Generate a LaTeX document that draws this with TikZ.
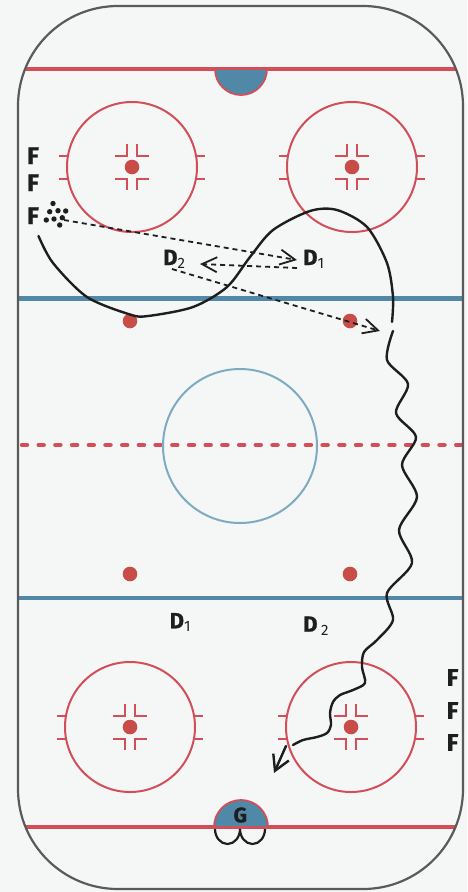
\documentclass[tikz,border=0pt]{standalone}
\usepackage{fontspec}
\setmainfont{Fira Sans}[BoldFeatures={FakeBold=1}]
\usetikzlibrary{arrows.meta}
\definecolor{bg}{HTML}{F5F7F6}
\definecolor{board}{HTML}{5A5A5A}
\definecolor{rred}{HTML}{D24E59}
\definecolor{rblue}{HTML}{5088A8}
\definecolor{cblue}{HTML}{7EAAC2}
\definecolor{dotred}{HTML}{C84D48}
\definecolor{ink}{HTML}{1E1E1E}
\newcommand\dsub[1]{{\fontsize{15pt}{15pt}\selectfont\mdseries\raisebox{-3.3pt}{#1}}}
\tikzset{
  circ/.style={draw=rred, line width=2pt},
  redline/.style={draw=rred, line width=4.5pt},
  blueline/.style={draw=rblue, line width=4.5pt},
  spot/.style={fill=dotred},
  crease/.style={fill=rblue, draw=rred, line width=1.8pt},
  skate/.style={draw=ink, line width=2.4pt, line cap=round},
  passline/.style={draw=ink, line width=1.8pt, dash pattern=on 5pt off 4pt,
    -{Straight Barb[length=15pt,width=15pt,line width=1.8pt]}},
  flab/.style={font=\fontsize{24pt}{24pt}\selectfont\bfseries, text=ink, inner sep=0pt},
  dlab/.style={font=\fontsize{22pt}{22pt}\selectfont\bfseries, text=ink, inner sep=0pt, anchor=base west},
  puck/.style={fill=ink},
  faceoff/.pic={
    \draw[circ] (0,0) circle[radius=65];
    \draw[circ] (-64,-11.5) -- (-73,-11.5) (-64,11.5) -- (-73,11.5)
                (64,-11.5) -- (73,-11.5) (64,11.5) -- (73,11.5);
    \draw[circ] (-5,-23) -- (-5,-11.5) -- (-17,-11.5)
                (5,-23) -- (5,-11.5) -- (17,-11.5)
                (-5,23) -- (-5,11.5) -- (-17,11.5)
                (5,23) -- (5,11.5) -- (17,11.5);
    \fill[spot] (0,0) circle[radius=7.3];
  }
}
\begin{document}
\begin{tikzpicture}[x=1pt,y=-1pt]
\fill[bg] (0,0) rectangle (467,892);
\useasboundingbox (0,0) rectangle (467,892);

\begin{scope}
  \clip[rounded corners=100pt] (18,6) rectangle (463,889);
  \draw[redline] (0,69) -- (467,69);
  \draw[redline] (0,827) -- (467,827);
  \draw[blueline] (0,298.5) -- (467,298.5);
  \draw[blueline] (0,598) -- (467,598);
  \draw[draw=rred, line width=4.5pt, line cap=round, dash pattern=on 5pt off 11.7pt] (22,445) -- (470,445);
\end{scope}

% creases
\draw[crease] (215,69) arc[start angle=180,end angle=0,radius=26] -- cycle;
\draw[crease] (214,827) arc[start angle=180,end angle=360,radius=27] -- cycle;
\draw[ink, line width=2.2pt] (215,829) arc[start angle=180,end angle=0,x radius=12.5,y radius=15]
  arc[start angle=180,end angle=0,x radius=12.5,y radius=15];

% faceoff circles
\pic at (132,167) {faceoff};
\pic at (352,167) {faceoff};
\pic at (130,727) {faceoff};
\pic at (351,727) {faceoff};

% neutral zone spots
\fill[spot] (130,321) circle[radius=7.3];
\fill[spot] (350,321) circle[radius=7.3];
\fill[spot] (130,574) circle[radius=7.3];
\fill[spot] (350,574) circle[radius=7.3];

% centre circle
\draw[cblue, line width=2pt] (240,446) circle[radius=77];

% boards
\draw[board, line width=2.2pt, rounded corners=100pt] (18,6) rectangle (463,889);

% labels
\node[flab] (fl1) at (33,155.7) {F};
\node[flab] (fl2) at (33,182.8) {F};
\node[flab] (fl3) at (33,215.8) {F};
\node[flab] (fr1) at (452.5,677.5) {F};
\node[flab] (fr2) at (452.5,710.5) {F};
\node[flab] (fr3) at (452.5,742.5) {F};
\node[dlab] (d2t) at (163,265) {D\dsub{2}};
\node[dlab] (d1t) at (303,265) {D\dsub{1}};
\node[dlab] (d1b) at (169.5,628.3) {D\dsub{1}};
\node[dlab] (d2b) at (303,631.7) {D\,\dsub{2}};
\node[font=\fontsize{21pt}{21pt}\selectfont\bfseries, text=ink, inner sep=0pt] (g) at (240.3,815) {G};

% puck cluster
\foreach \px/\py in {53/203.5,49.7/211.7,58/210.7,65.7/211,46.3/220,54/219,62.3/217.7,59.7/225}
  \fill[puck] (\px,\py) circle[radius=2.7];

% passes
\coordinate (p1s) at (64,220);
\coordinate (p1e) at (297,260);
\coordinate (p2s) at (297,268);
\coordinate (p2e) at (200,264);
\coordinate (p3s) at (172,269);
\coordinate (p3e) at (380,331);
\draw[passline] (p1s) -- (p1e);
\draw[passline] (p2s) -- (p2e);
\draw[passline] (p3s) -- (p3e);

% skating path
\draw[skate] plot[smooth] coordinates {(38.5,236) (53,263) (87,297) (130,314.5) (148,316) (193,307) (227,287) (250,257) (273,230) (310,211) (337,210) (367,227) (387,263) (393,297) (392,322)};

% stickhandling (wavy)
\draw[skate] plot[smooth] coordinates {(393,331) (387,360) (408,384) (396,413) (416,437) (402,465) (417,497) (399,530) (412,563) (387,593) (393,620) (377,640) (364,652) (362,667) (365,683) (353,690) (340,695) (333,702) (330,713) (331,725) (327,733) (317,737) (303,740) (293,745)};

% shot
\coordinate (shs) at (286,746);
\coordinate (she) at (274,773);
\draw[skate, -{Straight Barb[length=15pt,width=17pt,line width=2.4pt]}] (shs) -- (she);
\end{tikzpicture}
\end{document}
